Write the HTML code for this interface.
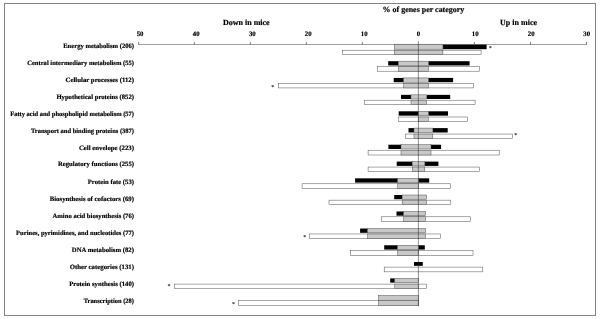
<!DOCTYPE html>
<html><head><meta charset="utf-8"><title>% of genes per category</title>
<style>html,body{margin:0;padding:0;background:#fff}svg{display:block;will-change:transform;opacity:0.999}</style></head>
<body>
<svg width="600" height="319" viewBox="0 0 600 319">
<rect x="0" y="0" width="600" height="319" fill="#fff"/>
<rect x="4.5" y="3.5" width="591" height="312" fill="none" stroke="#828282" stroke-width="1"/>
<g font-family="'Liberation Serif', 'Times New Roman', serif" font-weight="bold" fill="#000" stroke="#000" stroke-width="0.18" text-rendering="geometricPrecision">
<text x="382.6" y="11.6" font-size="8" textLength="81.7" lengthAdjust="spacingAndGlyphs">% of genes per category</text>
<text x="223" y="24.6" font-size="8">Down in mice</text>
<text x="500.1" y="24.6" font-size="8">Up in mice</text>
<text x="140.1" y="35.8" font-size="6.8" text-anchor="middle">50</text>
<text x="196.2" y="35.8" font-size="6.8" text-anchor="middle">40</text>
<text x="252.3" y="35.8" font-size="6.8" text-anchor="middle">30</text>
<text x="308.2" y="35.8" font-size="6.8" text-anchor="middle">20</text>
<text x="364.2" y="35.8" font-size="6.8" text-anchor="middle">10</text>
<text x="418.5" y="35.8" font-size="6.8" text-anchor="middle">0</text>
<text x="475.2" y="35.8" font-size="6.8" text-anchor="middle">10</text>
<text x="531.2" y="35.8" font-size="6.8" text-anchor="middle">20</text>
<text x="586.7" y="35.8" font-size="6.8" text-anchor="middle">30</text>
<text x="63.20" y="47.95" font-size="6.62" textLength="70.8" lengthAdjust="spacingAndGlyphs">Energy metabolism (206)</text>
<text x="27.20" y="64.90" font-size="6.62" textLength="106.8" lengthAdjust="spacingAndGlyphs">Central intermediary metabolism (55)</text>
<text x="65.50" y="81.85" font-size="6.62" textLength="68.5" lengthAdjust="spacingAndGlyphs">Cellular processes (112)</text>
<text x="56.40" y="98.80" font-size="6.62" textLength="77.6" lengthAdjust="spacingAndGlyphs">Hypothetical proteins (852)</text>
<text x="10.20" y="115.95" font-size="6.62" textLength="123.8" lengthAdjust="spacingAndGlyphs">Fatty acid and phospholipid metabolism (57)</text>
<text x="30.90" y="132.90" font-size="6.62" textLength="103.1" lengthAdjust="spacingAndGlyphs">Transport and binding proteins (387)</text>
<text x="78.90" y="149.60" font-size="6.62" textLength="55.1" lengthAdjust="spacingAndGlyphs">Cell envelope (223)</text>
<text x="58.00" y="166.30" font-size="6.62" textLength="76.0" lengthAdjust="spacingAndGlyphs">Regulatory functions (255)</text>
<text x="87.80" y="183.60" font-size="6.62" textLength="46.2" lengthAdjust="spacingAndGlyphs">Protein fate (53)</text>
<text x="49.70" y="200.60" font-size="6.62" textLength="84.3" lengthAdjust="spacingAndGlyphs">Biosynthesis of cofactors (69)</text>
<text x="52.50" y="217.55" font-size="6.62" textLength="81.5" lengthAdjust="spacingAndGlyphs">Amino acid biosynthesis (76)</text>
<text x="16.10" y="234.70" font-size="6.62" textLength="117.9" lengthAdjust="spacingAndGlyphs">Purines, pyrimidines, and nucleotides (77)</text>
<text x="71.80" y="251.70" font-size="6.62" textLength="62.2" lengthAdjust="spacingAndGlyphs">DNA metabolism (82)</text>
<text x="69.70" y="268.70" font-size="6.62" textLength="64.3" lengthAdjust="spacingAndGlyphs">Other categories (131)</text>
<text x="69.20" y="286.10" font-size="6.62" textLength="64.8" lengthAdjust="spacingAndGlyphs">Protein synthesis (140)</text>
<text x="83.70" y="302.80" font-size="6.62" textLength="50.3" lengthAdjust="spacingAndGlyphs">Transcription (28)</text>
</g>
<rect x="342.50" y="50.20" width="138.60" height="4.20" fill="#fff" stroke="#505050" stroke-width="0.5"/>
<rect x="442.90" y="44.20" width="43.70" height="5.00" fill="#000"/>
<rect x="394.30" y="44.20" width="48.60" height="5.00" fill="#c8c8c8" stroke="#505050" stroke-width="0.5"/>
<rect x="394.30" y="50.20" width="48.60" height="4.20" fill="#c8c8c8" stroke="#505050" stroke-width="0.5"/>
<text x="490.2" y="50.20" font-size="6" font-weight="bold" text-anchor="middle" font-family="'Liberation Serif', serif" fill="#111" text-rendering="geometricPrecision">*</text>
<rect x="377.60" y="66.64" width="101.90" height="4.55" fill="#fff" stroke="#505050" stroke-width="0.5"/>
<rect x="388.20" y="61.19" width="10.30" height="4.30" fill="#000"/>
<rect x="428.40" y="61.19" width="41.20" height="4.30" fill="#000"/>
<rect x="398.50" y="61.19" width="29.90" height="4.30" fill="#c8c8c8" stroke="#505050" stroke-width="0.5"/>
<rect x="398.50" y="66.64" width="29.90" height="4.55" fill="#c8c8c8" stroke="#505050" stroke-width="0.5"/>
<rect x="278.30" y="83.37" width="195.30" height="4.55" fill="#fff" stroke="#505050" stroke-width="0.5"/>
<rect x="393.70" y="77.92" width="10.00" height="4.30" fill="#000"/>
<rect x="428.30" y="77.92" width="24.80" height="4.30" fill="#000"/>
<rect x="403.70" y="77.92" width="24.60" height="4.30" fill="#c8c8c8" stroke="#505050" stroke-width="0.5"/>
<rect x="403.70" y="83.37" width="24.60" height="4.55" fill="#c8c8c8" stroke="#505050" stroke-width="0.5"/>
<text x="272.8" y="88.80" font-size="6" font-weight="bold" text-anchor="middle" font-family="'Liberation Serif', serif" fill="#111" text-rendering="geometricPrecision">*</text>
<rect x="364.60" y="100.20" width="110.50" height="4.40" fill="#fff" stroke="#505050" stroke-width="0.5"/>
<rect x="401.00" y="94.85" width="10.00" height="4.15" fill="#000"/>
<rect x="426.60" y="94.85" width="23.60" height="4.15" fill="#000"/>
<rect x="411.00" y="94.85" width="15.60" height="4.15" fill="#c8c8c8" stroke="#505050" stroke-width="0.5"/>
<rect x="411.00" y="100.20" width="15.60" height="4.40" fill="#c8c8c8" stroke="#505050" stroke-width="0.5"/>
<rect x="398.70" y="117.00" width="68.80" height="4.45" fill="#fff" stroke="#505050" stroke-width="0.5"/>
<rect x="398.70" y="111.30" width="19.70" height="4.35" fill="#000"/>
<rect x="428.30" y="111.30" width="19.70" height="4.35" fill="#000"/>
<rect x="418.40" y="111.30" width="9.90" height="4.35" fill="#c8c8c8" stroke="#505050" stroke-width="0.5"/>
<rect x="418.40" y="117.00" width="9.90" height="4.45" fill="#c8c8c8" stroke="#505050" stroke-width="0.5"/>
<rect x="405.70" y="134.05" width="106.80" height="4.20" fill="#fff" stroke="#505050" stroke-width="0.5"/>
<rect x="408.50" y="128.10" width="5.50" height="4.40" fill="#000"/>
<rect x="432.80" y="128.10" width="14.90" height="4.40" fill="#000"/>
<rect x="414.00" y="128.10" width="18.80" height="4.40" fill="#c8c8c8" stroke="#505050" stroke-width="0.5"/>
<rect x="414.00" y="134.05" width="18.80" height="4.20" fill="#c8c8c8" stroke="#505050" stroke-width="0.5"/>
<text x="515.7" y="137.20" font-size="6" font-weight="bold" text-anchor="middle" font-family="'Liberation Serif', serif" fill="#111" text-rendering="geometricPrecision">*</text>
<rect x="368.10" y="150.20" width="131.10" height="4.80" fill="#fff" stroke="#505050" stroke-width="0.5"/>
<rect x="388.40" y="144.70" width="12.60" height="4.30" fill="#000"/>
<rect x="431.00" y="144.70" width="10.10" height="4.30" fill="#000"/>
<rect x="401.00" y="144.70" width="30.00" height="4.30" fill="#c8c8c8" stroke="#505050" stroke-width="0.5"/>
<rect x="401.00" y="150.20" width="30.00" height="4.80" fill="#c8c8c8" stroke="#505050" stroke-width="0.5"/>
<rect x="368.10" y="167.05" width="111.60" height="4.55" fill="#fff" stroke="#505050" stroke-width="0.5"/>
<rect x="396.70" y="161.59" width="15.60" height="4.30" fill="#000"/>
<rect x="424.80" y="161.59" width="13.60" height="4.30" fill="#000"/>
<rect x="412.30" y="161.59" width="12.50" height="4.30" fill="#c8c8c8" stroke="#505050" stroke-width="0.5"/>
<rect x="412.30" y="167.05" width="12.50" height="4.55" fill="#c8c8c8" stroke="#505050" stroke-width="0.5"/>
<rect x="302.10" y="183.78" width="148.30" height="4.55" fill="#fff" stroke="#505050" stroke-width="0.5"/>
<rect x="355.10" y="178.33" width="42.60" height="4.30" fill="#000"/>
<rect x="418.40" y="178.33" width="10.80" height="4.30" fill="#000"/>
<rect x="397.70" y="178.33" width="20.70" height="4.30" fill="#c8c8c8" stroke="#505050" stroke-width="0.5"/>
<rect x="397.70" y="183.78" width="20.70" height="4.55" fill="#c8c8c8" stroke="#505050" stroke-width="0.5"/>
<rect x="329.00" y="200.15" width="121.80" height="4.40" fill="#fff" stroke="#505050" stroke-width="0.5"/>
<rect x="394.20" y="195.00" width="8.00" height="4.20" fill="#000"/>
<rect x="402.20" y="195.00" width="24.40" height="4.20" fill="#c8c8c8" stroke="#505050" stroke-width="0.5"/>
<rect x="402.20" y="200.15" width="24.40" height="4.40" fill="#c8c8c8" stroke="#505050" stroke-width="0.5"/>
<rect x="381.40" y="216.80" width="89.00" height="4.65" fill="#fff" stroke="#505050" stroke-width="0.5"/>
<rect x="396.50" y="211.50" width="7.20" height="4.20" fill="#000"/>
<rect x="403.70" y="211.50" width="21.90" height="4.20" fill="#c8c8c8" stroke="#505050" stroke-width="0.5"/>
<rect x="403.70" y="216.80" width="21.90" height="4.65" fill="#c8c8c8" stroke="#505050" stroke-width="0.5"/>
<rect x="309.20" y="233.98" width="131.20" height="4.55" fill="#fff" stroke="#505050" stroke-width="0.5"/>
<rect x="360.10" y="228.53" width="7.50" height="4.30" fill="#000"/>
<rect x="367.60" y="228.53" width="58.00" height="4.30" fill="#c8c8c8" stroke="#505050" stroke-width="0.5"/>
<rect x="367.60" y="233.98" width="58.00" height="4.55" fill="#c8c8c8" stroke="#505050" stroke-width="0.5"/>
<text x="304.7" y="238.60" font-size="6" font-weight="bold" text-anchor="middle" font-family="'Liberation Serif', serif" fill="#111" text-rendering="geometricPrecision">*</text>
<rect x="350.60" y="250.72" width="122.40" height="4.55" fill="#fff" stroke="#505050" stroke-width="0.5"/>
<rect x="384.20" y="245.27" width="13.40" height="4.30" fill="#000"/>
<rect x="418.40" y="245.27" width="6.40" height="4.30" fill="#000"/>
<rect x="397.60" y="245.27" width="20.80" height="4.30" fill="#c8c8c8" stroke="#505050" stroke-width="0.5"/>
<rect x="397.60" y="250.72" width="20.80" height="4.55" fill="#c8c8c8" stroke="#505050" stroke-width="0.5"/>
<rect x="384.20" y="267.10" width="98.60" height="4.75" fill="#fff" stroke="#505050" stroke-width="0.5"/>
<rect x="414.00" y="262.00" width="8.80" height="3.85" fill="#000"/>
<rect x="174.30" y="284.10" width="252.30" height="4.55" fill="#fff" stroke="#505050" stroke-width="0.5"/>
<rect x="390.20" y="278.40" width="4.60" height="4.25" fill="#000"/>
<rect x="394.80" y="278.40" width="23.60" height="4.25" fill="#c8c8c8" stroke="#505050" stroke-width="0.5"/>
<rect x="394.80" y="284.10" width="23.60" height="4.55" fill="#c8c8c8" stroke="#505050" stroke-width="0.5"/>
<text x="169.1" y="287.50" font-size="6" font-weight="bold" text-anchor="middle" font-family="'Liberation Serif', serif" fill="#111" text-rendering="geometricPrecision">*</text>
<rect x="238.30" y="300.40" width="180.10" height="5.30" fill="#fff" stroke="#505050" stroke-width="0.5"/>
<rect x="378.40" y="295.50" width="40.00" height="4.70" fill="#c8c8c8" stroke="#505050" stroke-width="0.5"/>
<rect x="378.40" y="300.40" width="40.00" height="5.30" fill="#c8c8c8" stroke="#505050" stroke-width="0.5"/>
<text x="233.5" y="305.60" font-size="6" font-weight="bold" text-anchor="middle" font-family="'Liberation Serif', serif" fill="#111" text-rendering="geometricPrecision">*</text>
<path d="M138.5 44.5H586.7" stroke="#777" stroke-width="0.7" fill="none"/>
<path d="M138.6 42V44.8" stroke="#606060" stroke-width="0.8" fill="none"/>
<path d="M194.3 42V44.8" stroke="#606060" stroke-width="0.8" fill="none"/>
<path d="M250.3 42V44.8" stroke="#606060" stroke-width="0.8" fill="none"/>
<path d="M306.3 42V44.8" stroke="#606060" stroke-width="0.8" fill="none"/>
<path d="M362.3 42V44.8" stroke="#606060" stroke-width="0.8" fill="none"/>
<path d="M474.4 42V44.8" stroke="#606060" stroke-width="0.8" fill="none"/>
<path d="M530.5 42V44.8" stroke="#606060" stroke-width="0.8" fill="none"/>
<path d="M586.5 42V44.8" stroke="#606060" stroke-width="0.8" fill="none"/>
<path d="M418.4 41.2V306.4" stroke="#222" stroke-width="0.5" fill="none"/>
</svg>
</body></html>
